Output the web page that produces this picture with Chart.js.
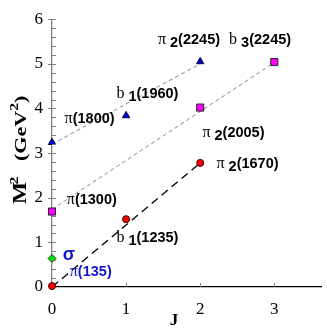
<!DOCTYPE html>
<html>
<head>
<meta charset="utf-8">
<script src="https://cdn.jsdelivr.net/npm/chart.js@4.4.0/dist/chart.umd.min.js"></script>
<style>
  html, body { margin: 0; padding: 0; background: #fff; }
  #wrap { width: 327px; height: 334px; }
</style>
</head>
<body>
<div id="wrap"><canvas id="chart"></canvas></div>
<script>
// spin J vs squared mass M^2 (GeV^2)
const jTicks = [0, 1, 2, 3];
const m2Ticks = [0, 1, 2, 3, 4, 5, 6];

const redJ = [0, 1, 2];
const redM2 = [0.02, 1.52, 2.78];
const magentaJ = [0, 2, 3];
const magentaM2 = [1.69, 4.02, 5.04];
const blueJ = [0, 1, 2];
const blueM2 = [3.24, 3.84, 5.05];
const sigmaJ = [0];
const sigmaM2 = [0.64];

// trajectory lines, end points
const line1J = [0, 2];
const line1M2 = [0, 2.78];
const line2J = [0, 3];
const line2M2 = [1.74, 5.03];
const line3J = [0, 2];
const line3M2 = [3.2, 5.0];

// state labels: name, subscript, mass, anchor (J, M^2)
const labelPre = ["π", "b", "b", "π", "π", "π", "π", "b", "σ", "π"];
const labelSub = ["2", "3", "1", "", "2", "2", "", "1", "", ""];
const labelMass = ["(2245)", "(2245)", "(1960)", "(1800)", "(2005)", "(1670)", "(1300)", "(1235)", "", "(135)"];
const labelJ = [1.43, 2.39, 0.87, 0.17, 2.03, 2.22, 0.20, 0.87, 0.145, 0.24];
const labelM2 = [5.44, 5.44, 4.24, 3.68, 3.37, 2.67, 1.85, 1.01, 0.6, 0.24];
const labelBlue = [false, false, false, false, false, false, false, false, true, true];

function pts(xs, ys) {
  return xs.map((x, i) => ({ x: x, y: ys[i] }));
}

function drawLabel(ctx, px, py, pre, sub, mass, color) {
  ctx.fillStyle = color;
  ctx.textAlign = "left";
  ctx.textBaseline = "alphabetic";
  let cx = px;
  if (pre === "σ") {
    ctx.font = 'bold 18px "Liberation Sans"';
  } else {
    ctx.font = '16px "Liberation Serif"';
  }
  ctx.fillText(pre, cx, py);
  cx += ctx.measureText(pre).width;
  ctx.font = 'bold 14.5px "Liberation Sans"';
  if (sub) {
    cx += 4;
    ctx.fillText(sub, cx, py + 3);
    cx += ctx.measureText(sub).width;
  }
  if (mass) ctx.fillText(mass, cx, py);
}

const decor = {
  id: "decor",
  afterDraw(chart) {
    const ctx = chart.ctx;
    const x = chart.scales.x, y = chart.scales.y;
    const left = chart.chartArea.left, bottom = chart.chartArea.bottom;
    ctx.save();
    // y ticks, minor every 0.2
    ctx.strokeStyle = "#808080";
    ctx.lineWidth = 1;
    for (let k = 1; k <= 30; k++) {
      const py = Math.round(y.getPixelForValue(k / 5)) + 0.5;
      const major = k % 5 === 0;
      ctx.beginPath();
      ctx.moveTo(left - (major ? 4 : 0), py);
      ctx.lineTo(left + 4, py);
      ctx.stroke();
    }
    // x ticks, pointing up
    jTicks.slice(1).forEach(function (v) {
      const px = Math.round(x.getPixelForValue(v)) + 0.5;
      ctx.beginPath();
      ctx.moveTo(px, bottom);
      ctx.lineTo(px, bottom - 4);
      ctx.stroke();
    });

    // state labels
    for (let i = 0; i < labelPre.length; i++) {
      drawLabel(ctx, x.getPixelForValue(labelJ[i]), y.getPixelForValue(labelM2[i]),
        labelPre[i], labelSub[i], labelMass[i], labelBlue[i] ? "#1515d0" : "#000");
    }

    // axis titles
    ctx.fillStyle = "#000";
    ctx.font = 'bold 17px "Liberation Serif"';
    ctx.textAlign = "center";
    ctx.fillText("J", 174, 325);

    ctx.translate(26, 204);
    ctx.rotate(-Math.PI / 2);
    ctx.scale(1.3, 1);
    ctx.textAlign = "left";
    const parts = [["M", 0, 0, 18], ["2", 15, -8, 12], ["(GeV", 33, 0, 17], ["2", 0, -8, 12], [")", 0, 0, 17]];
    let cx = 0;
    parts.forEach(function (p) {
      if (p[1]) cx = p[1];
      ctx.font = "bold " + p[3] + 'px "Liberation Serif"';
      ctx.fillText(p[0], cx, p[2]);
      cx += ctx.measureText(p[0]).width;
    });
    ctx.restore();
  }
};

const serif = { family: "Liberation Serif", size: 17 };

new Chart(document.getElementById("chart"), {
  type: "scatter",
  data: {
    datasets: [
      { label: "pi", data: pts(redJ, redM2), pointStyle: "circle", pointRadius: 3.5,
        backgroundColor: "#ff0000", borderColor: "#3a0000", borderWidth: 1, order: 1, clip: false },
      { label: "pi2", data: pts(magentaJ, magentaM2), pointStyle: "rect", pointRadius: 5,
        backgroundColor: "#ff00ff", borderColor: "#202020", borderWidth: 1, order: 1, clip: false },
      { label: "pi3", data: pts(blueJ, blueM2), pointStyle: "triangle", pointRadius: 4.2,
        backgroundColor: "#0000d0", borderColor: "#000040", borderWidth: 1, order: 1, clip: false },
      { label: "sigma", data: pts(sigmaJ, sigmaM2), pointStyle: "rectRot", pointRadius: 4,
        backgroundColor: "#00dd00", borderColor: "#205020", borderWidth: 1, order: 1, clip: false },
      { label: "t1", data: pts(line1J, line1M2), showLine: true, pointRadius: 0,
        borderColor: "#000", borderWidth: 1.3, borderDash: [8, 5], order: 2 },
      { label: "t2", data: pts(line2J, line2M2), showLine: true, pointRadius: 0,
        borderColor: "#8a8a8a", borderWidth: 1, borderDash: [4, 3], order: 2 },
      { label: "t3", data: pts(line3J, line3M2), showLine: true, pointRadius: 0,
        borderColor: "#8a8a8a", borderWidth: 1, borderDash: [4, 3], order: 2 }
    ]
  },
  options: {
    responsive: true,
    maintainAspectRatio: false,
    animation: false,
    layout: { padding: { top: 15, right: 0, left: 0, bottom: 0 } },
    plugins: { legend: { display: false }, tooltip: { enabled: false } },
    scales: {
      x: {
        type: "linear", min: 0, max: 3.63,
        afterBuildTicks: function (s) { s.ticks = jTicks.map(v => ({ value: v })); },
        afterFit: function (s) { s.height = 47; },
        grid: { display: false, drawTicks: false },
        border: { display: true, color: "#000", width: 1.3 },
        ticks: { color: "#000", font: serif, padding: 12, maxRotation: 0 }
      },
      y: {
        type: "linear", min: 0, max: 6,
        afterBuildTicks: function (s) { s.ticks = m2Ticks.map(v => ({ value: v })); },
        afterFit: function (s) { s.width = 52; },
        grid: { display: false, drawTicks: false },
        border: { display: true, color: "#808080", width: 1.3 },
        ticks: { color: "#000", font: serif, padding: 9 }
      }
    }
  },
  plugins: [decor]
});
</script>
</body>
</html>
